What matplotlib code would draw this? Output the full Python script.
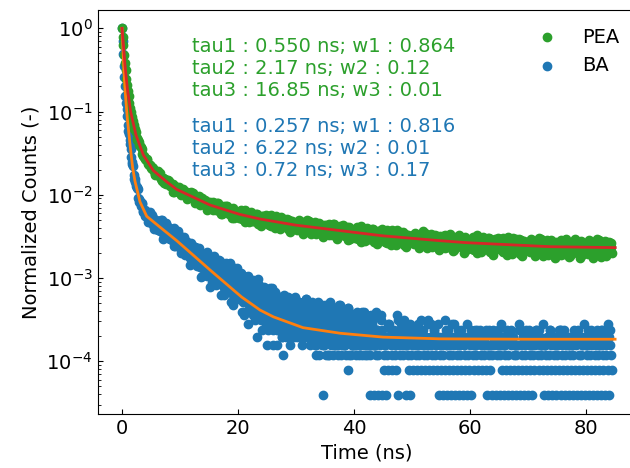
import numpy as np
import matplotlib
matplotlib.use("Agg")
import matplotlib.pyplot as plt

# ---------------- data ----------------
# Photon counts per time bin, given as interleaved bin sets (start time, step in ns)
pea_t0_a, pea_t0_b, pea_dt = 0.0, 0.125, 0.25
ba_t0_a, ba_t0_b, ba_dt = 0.0, 0.1, 0.2
ba_t0_c, ba_t0_d = 6.05, 6.15          # extra bins in the 6-44 ns region

pea_counts_a = [
    22000, 13719, 8393, 5452, 3875, 2779, 2179, 1869, 1501, 1338, 1067, 1003, 880, 834, 674, 648, 597, 596, 516, 504,
    461, 470, 427, 381, 412, 376, 403, 336, 353, 305, 334, 310, 326, 280, 285, 294, 237, 268, 250, 253,
    249, 220, 258, 224, 240, 195, 219, 230, 200, 229, 188, 205, 192, 210, 166, 184, 173, 190, 162, 170,
    159, 180, 166, 143, 169, 153, 176, 139, 156, 129, 154, 144, 160, 132, 140, 150, 115, 141, 131, 135,
    133, 115, 144, 122, 135, 104, 124, 134, 113, 137, 107, 123, 114, 130, 98, 113, 107, 122, 101, 110,
    103, 121, 110, 92, 114, 102, 122, 93, 107, 86, 108, 100, 113, 92, 99, 108, 79, 102, 94, 98,
    97, 83, 108, 89, 101, 75, 93, 102, 84, 106, 81, 94, 87, 102, 74, 88, 83, 96, 78, 86,
    80, 96, 87, 72, 91, 81, 99, 73, 86, 68, 87, 80, 93, 73, 80, 89, 62, 83, 77, 81,
    80, 67, 90, 73, 84, 60, 76, 85, 69, 88, 65, 78, 72, 85, 60, 72, 68, 80, 64, 71,
    65, 80, 72, 58, 76, 67, 83, 60, 72, 55, 73, 67, 78, 61, 67, 75, 51, 71, 65, 68,
    68, 56, 77, 62, 72, 50, 65, 73, 58, 77, 56, 67, 62, 74, 51, 62, 58, 70, 55, 62,
    57, 71, 63, 50, 67, 58, 74, 52, 63, 48, 64, 59, 69, 53, 59, 67, 44, 62, 57, 60,
    60, 49, 69, 55, 64, 44, 58, 65, 52, 69, 49, 61, 55, 67, 45, 56, 52, 64, 49, 56,
    51, 65, 57, 45, 61, 53, 68, 47, 58, 43, 59, 54, 64, 48, 54, 62, 40, 58, 52, 56,
    56, 45, 64, 50, 60, 40, 54, 61, 48, 64, 45, 56, 51, 62, 41, 52, 48, 59, 45, 52,
    48, 60, 53, 42, 58, 50, 64, 44, 55, 40, 56, 51, 61, 46, 51, 59, 38, 55, 50, 54,
    53, 43, 62, 48, 58, 38, 52, 59, 46, 62, 44, 55, 49, 61, 40, 51, 47, 58, 44,
]

pea_counts_b = [
    17502, 10574, 6859, 4562, 3357, 2410, 1997, 1713, 1373, 1246, 1010, 949, 836, 790, 641, 628, 579, 575, 502, 502,
    453, 456, 388, 406, 426, 366, 376, 320, 347, 342, 298, 304, 320, 279, 283, 240, 280, 264, 239, 270,
    255, 225, 242, 224, 240, 200, 219, 239, 201, 214, 177, 202, 204, 175, 184, 200, 171, 176, 146, 182,
    172, 154, 181, 164, 143, 176, 152, 161, 128, 150, 159, 137, 163, 129, 144, 136, 152, 117, 132, 126,
    126, 140, 112, 128, 146, 118, 130, 103, 124, 128, 106, 115, 130, 108, 115, 92, 122, 116, 102, 125,
    112, 96, 124, 105, 114, 87, 106, 115, 96, 120, 92, 105, 99, 113, 84, 98, 93, 105, 88, 101,
    102, 86, 99, 91, 102, 79, 94, 110, 85, 97, 74, 94, 96, 78, 87, 100, 81, 88, 69, 96,
    90, 78, 99, 88, 72, 98, 81, 90, 65, 83, 92, 75, 95, 71, 84, 79, 90, 65, 78, 75,
    74, 86, 65, 79, 92, 71, 82, 61, 77, 81, 65, 73, 84, 67, 73, 56, 80, 75, 65, 84,
    72, 60, 83, 68, 75, 54, 70, 78, 62, 82, 60, 72, 66, 78, 55, 67, 63, 73, 60, 71,
    73, 59, 70, 63, 73, 54, 66, 80, 60, 69, 50, 67, 69, 54, 62, 73, 57, 63, 47, 70,
    65, 55, 73, 63, 51, 73, 59, 66, 46, 61, 68, 54, 72, 51, 63, 58, 69, 47, 58, 55,
    55, 65, 47, 59, 72, 54, 63, 45, 60, 63, 49, 55, 66, 52, 57, 42, 63, 59, 50, 67,
    58, 47, 67, 54, 60, 42, 56, 63, 50, 67, 47, 58, 53, 64, 43, 54, 51, 61, 48, 58,
    60, 47, 58, 51, 61, 43, 55, 67, 49, 58, 40, 55, 58, 45, 51, 62, 48, 53, 38, 59,
    56, 47, 63, 54, 43, 63, 50, 57, 39, 53, 60, 47, 64, 44, 55, 51, 61, 41, 52, 48,
    57, 46, 56, 49, 59, 42, 53, 65, 48, 56, 39, 54, 57, 44, 50, 60, 47, 52,
]

ba_counts_a = [
    25445, 12565, 6681, 3919, 2696, 1766, 1355, 1025, 725, 602, 440, 392, 328, 315, 230, 223, 195, 202, 164, 164,
    143, 158, 141, 120, 141, 125, 145, 110, 123, 99, 119, 109, 121, 96, 102, 109, 78, 99, 90, 92,
    90, 74, 96, 77, 86, 61, 75, 82, 65, 82, 58, 69, 61, 72, 48, 58, 53, 62, 47, 52,
    46, 57, 60, 37, 50, 42, 58, 34, 43, 27, 42, 36, 48, 30, 34, 45, 20, 34, 29, 31,
    30, 21, 40, 24, 30, 16, 28, 29, 19, 33, 17, 23, 20, 38, 13, 19, 16, 27, 14, 17,
    14, 27, 16, 10, 18, 13, 24, 10, 15, 7, 15, 12, 22, 9, 12, 19, 5, 25, 10, 11,
    11, 6, 19, 8, 12, 4, 10, 12, 7, 17, 6, 10, 8, 16, 4, 8, 7, 13, 5, 8,
    9, 5, 12, 7, 8, 4, 10, 7, 14, 6, 8, 5, 11, 6, 9, 4, 7, 12, 5, 8,
    6, 9, 4, 7, 13, 5, 8, 3, 6, 10, 5, 7, 4, 1, 9, 6, 3, 8, 5, 11,
    4, 7, 3, 6, 9, 5, 4, 12, 6, 3, 5, 8, 4, 3, 6, 2, 10, 5, 4, 7,
    4, 6, 3, 9, 5, 4, 7, 3, 5, 8,
    4, 5, 6, 4, 3, 9, 6, 1, 4, 5, 6, 3, 5, 8, 1, 5, 2, 4, 3, 7, 5,
    5, 6, 2, 5, 3, 4, 9, 1, 4, 6, 5, 3, 8, 4, 1, 5, 2, 7, 3, 4, 5,
    4, 6, 2, 4, 3, 5, 8, 5, 4, 2, 5, 3, 7, 4, 7, 5, 2, 6, 3, 4, 5,
    1, 4, 2, 5, 3, 8, 4, 1, 6, 2, 4, 3, 5, 7, 1, 5, 2, 4, 3, 6, 5,
    1, 4, 2, 7, 3, 5, 4, 1, 5, 2, 4, 3, 6, 5, 5, 4, 2, 5, 3, 4, 6,
    1, 6, 2, 4, 3, 5, 4, 1, 5, 4, 4, 3, 7, 5, 1, 4, 2, 6, 3, 5, 4,
    1, 5, 2, 4, 3, 4, 6, 1, 4, 2, 5, 3, 6, 5, 1, 6, 2, 4, 3, 5, 4,
    6, 5, 2, 4, 3, 4, 7, 1, 4, 2, 5, 3, 6, 4, 1, 5, 2, 4, 3, 5, 6,
    1, 4, 2, 6, 3, 4, 5, 1, 5, 2, 4, 3, 5, 4, 1, 6, 2, 5, 3, 4, 5,
    1, 4, 2, 4, 3, 6, 5, 1, 5, 2, 6, 3, 4, 4, 1, 4, 2, 5, 3, 5, 7,
    1, 6, 2,
]

ba_counts_b = [
    18030, 8994, 5222, 3216, 2252, 1491, 1163, 899, 628, 557, 395, 365, 309, 298, 210, 212, 188, 197, 157, 166,
    142, 157, 119, 138, 156, 120, 133, 99, 123, 125, 98, 107, 121, 96, 101, 75, 107, 99, 82, 105,
    96, 75, 88, 76, 89, 61, 76, 90, 64, 74, 50, 68, 70, 50, 57, 68, 50, 55, 36, 60,
    54, 42, 59, 48, 35, 55, 40, 46, 26, 40, 46, 31, 48, 27, 36, 35, 44, 23, 33, 29,
    30, 39, 22, 31, 41, 25, 32, 16, 28, 30, 20, 25, 33, 21, 24, 12, 28, 25, 17, 29,
    22, 14, 27, 17, 22, 9, 18, 23, 13, 25, 11, 17, 15, 21, 8, 14, 12, 18, 10, 15,
    17, 9, 15, 11, 16, 6, 13, 19, 9, 14, 4, 12, 14, 6, 10, 15, 8, 10, 3, 13,
    11, 6, 14, 8, 10, 5, 12, 9, 7, 15, 9, 6, 13, 7, 10, 5, 11, 8, 14, 6,
    8, 11, 5, 9, 7, 12, 4, 10, 6, 3, 9, 5, 12, 7, 4, 10, 6, 3, 8, 13,
    6, 9, 4, 11, 5, 7, 3, 8, 10, 5, 7, 4, 9, 5, 11, 3, 6, 8, 4, 6,
    5, 9, 4, 7, 3, 6, 10, 5, 4, 8,
    5, 3, 8, 1, 4, 5, 6, 4, 3, 6, 1, 5, 4, 9, 6, 3, 4, 1, 5, 2, 7,
    4, 3, 5, 6, 4, 2, 8, 5, 3, 7, 4, 5, 6, 4, 4, 3, 5, 1, 6, 2, 5,
    5, 3, 4, 7, 5, 2, 4, 6, 3, 5, 4, 8, 2, 5, 4, 3, 6, 5, 4, 2, 7,
    5, 3, 4, 1, 5, 2, 6, 4, 3, 5, 1, 7, 2, 4, 5, 3, 6, 1, 4, 2, 5,
    4, 3, 5, 1, 5, 2, 6, 5, 3, 4, 6, 4, 2, 5, 6, 3, 5, 4, 5, 2, 4,
    4, 3, 4, 1, 6, 5, 5, 5, 3, 6, 1, 4, 2, 4, 4, 3, 5, 1, 5, 2, 6,
    5, 3, 4, 1, 4, 2, 7, 6, 3, 5, 1, 4, 2, 5, 4, 3, 4, 1, 5, 2, 6,
    5, 3, 6, 5, 4, 2, 4, 4, 3, 5, 1, 6, 2, 5, 5, 3, 4, 1, 4, 2, 6,
    6, 3, 5, 1, 5, 2, 4, 4, 3, 4, 1, 6, 2, 5, 5, 3, 5, 1, 4, 2, 7,
    4, 3, 6, 1, 5, 2, 4, 5, 3, 4, 1, 5, 2, 6, 6, 3, 5, 1, 4, 2, 5,
    4, 3,
]

ba_counts_c = [
    121, 95, 112, 127, 101, 88, 110, 97, 79, 104, 93, 76, 99, 86, 70, 69, 84, 77, 92, 63,
    72, 58, 67, 79, 55, 49, 63, 57, 44, 66, 53, 41, 50, 60, 44, 38, 47, 35, 45, 51,
    45, 33, 41, 52, 35, 31, 42, 29, 37, 47, 36, 26, 33, 42, 28, 24, 33, 21, 29, 38,
    30, 22, 35, 19, 27, 20, 29, 25, 17, 33, 24, 16, 29, 21, 13, 15, 23, 18, 27, 12,
    19, 12, 16, 24, 10, 11, 18, 14, 21, 9, 15, 9, 20, 12, 7, 10, 16, 8, 13, 19,
    13, 7, 17, 10, 6, 8, 14, 11, 5, 16, 12, 7, 10, 15, 6, 7, 11, 14, 5, 9,
    10, 6, 13, 8, 5, 6, 11, 8, 14, 5, 9, 5, 12, 7, 10, 6, 10, 4, 8, 13,
    9, 5, 11, 7, 4, 6, 10, 8, 3, 12, 8, 5, 11, 6, 4, 5, 9, 7, 12, 4,
    7, 4, 10, 6, 8, 5, 8, 3, 9, 6, 7, 4, 10, 5, 8, 4, 7, 9, 5, 3,
    6, 9, 4, 7, 5, 8, 5, 6, 4, 10,
]

ba_counts_d = [
    104, 118, 92, 109, 125, 99, 84, 115, 91, 100, 80, 95, 88, 72, 101, 78, 66, 87, 72, 81,
    61, 75, 66, 52, 70, 58, 51, 67, 54, 47, 46, 55, 43, 51, 38, 44, 37, 49, 40, 34,
    37, 48, 34, 40, 30, 40, 28, 36, 45, 32, 29, 38, 25, 32, 35, 31, 23, 27, 36, 26,
    24, 31, 27, 21, 34, 26, 18, 22, 30, 21, 18, 25, 22, 14, 27, 21, 14, 19, 24, 16,
    14, 20, 17, 11, 22, 16, 12, 19, 13, 8, 13, 17, 10, 14, 11, 14, 9, 12, 17, 10,
    9, 12, 15, 8, 11, 12, 9, 7, 13, 10, 8, 11, 9, 13, 7, 10, 8, 12, 6, 11,
    7, 9, 11, 6, 10, 9, 7, 12, 6, 8, 7, 10, 6, 9, 11, 8, 6, 9, 11, 5,
    7, 10, 6, 8, 12, 9, 5, 7, 10, 6, 6, 9, 7, 4, 10, 8, 6, 5, 10, 7,
    5, 9, 6, 8, 11, 7, 5, 8, 4, 9, 6, 8, 5, 9, 4, 8, 5, 6, 10, 6,
    5, 7, 8, 4, 6, 7, 4, 9, 6, 5,
]

# fitted curves (read along the red / orange lines)
pea_fit_t = [0, 0.25, 0.52, 0.92, 1.49, 2.41, 3.68, 5.4, 7.7, 9.4, 15.2, 20.3,
             23.8, 30, 37.6, 45, 54.8, 59.4, 73.8, 85]
pea_fit_v = [1.0, 0.63, 0.36, 0.19, 0.0995, 0.052, 0.030, 0.0195, 0.0143, 0.0116,
             0.0075, 0.0058, 0.0051, 0.0043, 0.0037, 0.0032, 0.0028, 0.00265,
             0.00237, 0.00231]
ba_fit_t = [0, 0.15, 0.34, 0.6, 0.92, 1.45, 1.84, 2.24, 3.1, 4.26, 6.5, 9.43, 12,
            15.2, 20.6, 23.8, 26.1, 31.2, 37.6, 45, 54.8, 70, 85]
ba_fit_v = [1.0, 0.6, 0.30, 0.155, 0.082, 0.036, 0.021, 0.0145, 0.0082, 0.0055,
            0.0041, 0.0028, 0.00195, 0.00124, 0.00059, 0.00041, 0.00034, 0.000252,
            0.000216, 0.000194, 0.000185, 0.000183, 0.000183]

series_labels = ["PEA", "BA"]
pea_text = "tau1 : 0.550 ns; w1 : 0.864\ntau2 : 2.17 ns; w2 : 0.12\ntau3 : 16.85 ns; w3 : 0.01"
ba_text = "tau1 : 0.257 ns; w1 : 0.816\ntau2 : 6.22 ns; w2 : 0.01\ntau3 : 0.72 ns; w3 : 0.17"

# ---------------- plot ----------------
plt.rcParams['font.size'] = 14
plt.rcParams['savefig.bbox'] = 'standard'
fig = plt.figure(figsize=(6.3, 4.68), dpi=100)
ax = fig.add_axes([0.1548, 0.1154, 0.8556, 0.8632])


def series(sets, dt):
    ts, cs = [], []
    for t0, counts in sets:
        c = np.asarray(counts, dtype=float)
        ts.append(t0 + dt * np.arange(len(c)))
        cs.append(c)
    t = np.concatenate(ts)
    c = np.concatenate(cs)
    return t, c / c.max()


t_pea, y_pea = series([(pea_t0_a, pea_counts_a), (pea_t0_b, pea_counts_b)], pea_dt)
t_ba, y_ba = series([(ba_t0_a, ba_counts_a), (ba_t0_b, ba_counts_b),
                     (ba_t0_c, ba_counts_c), (ba_t0_d, ba_counts_d)], ba_dt)

h_ba = ax.scatter(t_ba, y_ba, color='tab:blue', label=series_labels[1])
h_pea = ax.scatter(t_pea, y_pea, color='tab:green', label=series_labels[0])
ax.plot(ba_fit_t, ba_fit_v, color='tab:orange', lw=2)
ax.plot(pea_fit_t, pea_fit_v, color='tab:red', lw=2)

ax.set_yscale('log')
ax.set_xlim(-4.22, 88.7)
ax.set_ylim(2.31e-5, 1.66)
ax.set_xlabel('Time (ns)')
ax.set_ylabel('Normalized Counts (-)')
ax.tick_params(which='both', direction='in')
ax.set_xticks([0, 20, 40, 60, 80])
ax.spines['right'].set_visible(False)

ax.text(0.175, 0.856, pea_text, transform=ax.transAxes, color='tab:green',
        ha='left', va='center')
ax.text(0.175, 0.656, ba_text, transform=ax.transAxes, color='tab:blue',
        ha='left', va='center')

ax.legend(handles=[h_pea, h_ba], loc='upper right', frameon=False)

fig.savefig('out.png', dpi=100)
